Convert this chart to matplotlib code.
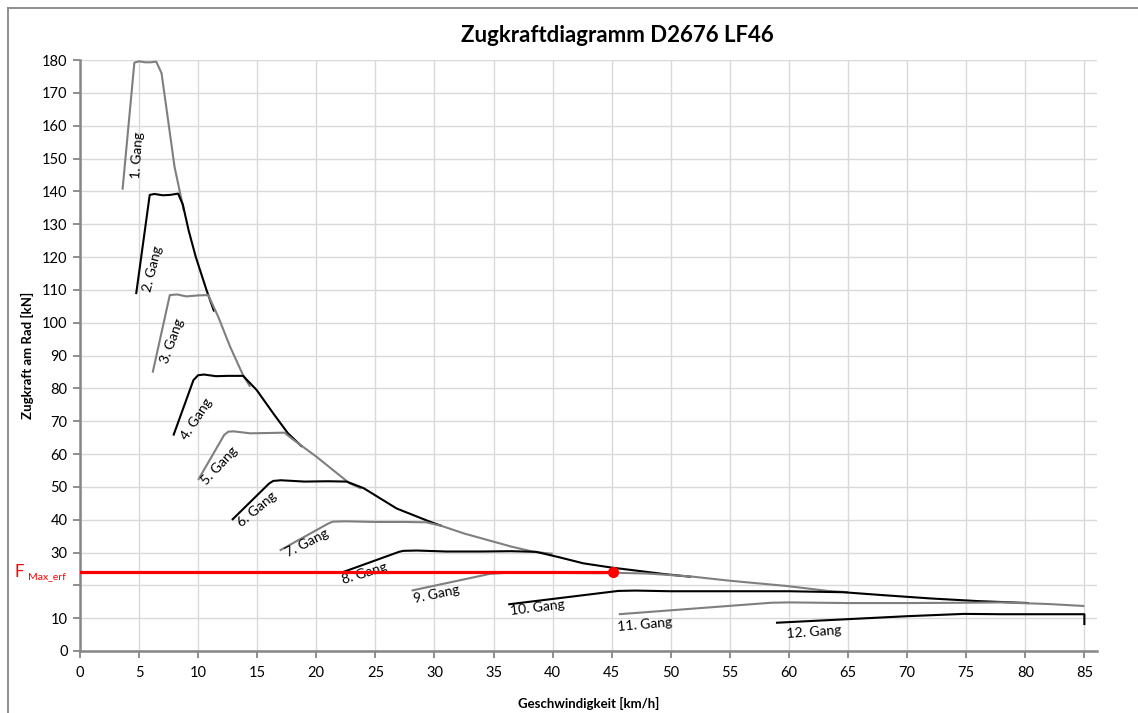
import matplotlib
matplotlib.use("Agg")
import matplotlib.pyplot as plt
from matplotlib.lines import Line2D
from matplotlib.transforms import blended_transform_factory

plt.rcParams['font.family'] = ['Lato', 'DejaVu Sans']

# --- data (speed km/h, tractive force kN) ---
g1_v = [3.6, 4.6, 5.0, 5.5, 6.0, 6.45, 6.9, 7.5, 8.0, 8.5, 8.8]
g1_f = [140.5, 179.2, 179.6, 179.3, 179.3, 179.5, 176.0, 160.5, 147.5, 139.0, 134.0]
g2_v = [4.75, 5.9, 6.3, 7.0, 7.6, 8.3, 8.7, 9.2, 9.8, 10.7, 11.35]
g2_f = [108.7, 138.9, 139.2, 138.8, 138.9, 139.3, 136.0, 128.0, 120.0, 110.0, 103.4]
g3_v = [6.15, 7.6, 8.2, 9.0, 10.0, 10.85, 11.7, 12.7, 13.8, 14.4]
g3_f = [84.8, 108.4, 108.6, 108.0, 108.3, 108.4, 101.8, 92.7, 84.0, 80.5]
g4_v = [7.9, 9.6, 10.0, 10.5, 11.5, 12.5, 13.8, 14.95, 16.35, 17.6, 18.8]
g4_f = [65.6, 82.5, 84.0, 84.2, 83.7, 83.8, 83.8, 79.5, 72.4, 66.3, 62.2]
g5_v = [10.0, 12.2, 12.55, 13.0, 14.4, 16.0, 17.3, 18.0, 20.0, 22.8, 23.8]
g5_f = [52.1, 65.8, 66.8, 66.9, 66.3, 66.4, 66.5, 64.5, 59.2, 51.1, 49.5]
g6_v = [12.86, 16.0, 16.35, 17.0, 19.0, 21.0, 22.56, 24.0, 26.8, 29.6, 30.6]
g6_f = [39.9, 51.0, 51.8, 52.0, 51.6, 51.7, 51.6, 49.6, 43.4, 39.4, 38.1]
g7_v = [16.9, 21.0, 21.4, 22.5, 25.0, 27.5, 29.3, 30.6, 32.5, 34.7, 36.5, 38.4, 40.0]
g7_f = [30.6, 38.8, 39.4, 39.5, 39.3, 39.3, 39.2, 38.1, 35.8, 33.6, 31.8, 30.2, 29.6]
g8_v = [22.0, 27.0, 27.35, 28.5, 31.0, 34.0, 36.5, 38.6, 40.5, 42.6, 45.0, 47.5, 49.5, 51.7]
g8_f = [23.7, 30.2, 30.5, 30.6, 30.3, 30.3, 30.4, 30.2, 28.6, 26.7, 25.4, 24.3, 23.4, 22.6]
g9_v = [28.06, 34.7, 36.0, 40.0, 44.0, 45.4, 48.0, 51.7, 55.0, 59.8, 63.3, 65.0]
g9_f = [18.4, 23.5, 23.8, 23.8, 23.7, 23.8, 23.6, 22.7, 21.4, 19.8, 18.3, 17.9]
g10_v = [36.24, 45.56, 47.0, 50.0, 55.0, 60.0, 64.6, 68.0, 72.0, 76.0, 80.3]
g10_f = [14.2, 18.3, 18.4, 18.2, 18.2, 18.2, 17.9, 17.0, 16.0, 15.2, 14.6]
g11_v = [45.6, 58.5, 60.0, 65.0, 70.0, 75.0, 78.0, 82.0, 85.0]
g11_f = [11.2, 14.7, 14.8, 14.6, 14.6, 14.7, 14.8, 14.3, 13.7]
g12_v = [58.9, 65.0, 70.0, 74.8, 78.0, 82.0, 85.0, 85.0]
g12_f = [8.6, 9.7, 10.6, 11.3, 11.2, 11.2, 11.2, 7.9]

gears_v = [g1_v, g2_v, g3_v, g4_v, g5_v, g6_v, g7_v, g8_v, g9_v, g10_v, g11_v, g12_v]
gears_f = [g1_f, g2_f, g3_f, g4_f, g5_f, g6_f, g7_f, g8_f, g9_f, g10_f, g11_f, g12_f]
gear_labels = ['1. Gang', '2. Gang', '3. Gang', '4. Gang', '5. Gang', '6. Gang',
               '7. Gang', '8. Gang', '9. Gang', '10. Gang', '11. Gang', '12. Gang']

f_max_erf = 24.0
v_max_erf = 45.1

y_ticks = [0, 10, 20, 30, 40, 50, 60, 70, 80, 90, 100, 110, 120, 130, 140, 150, 160, 170, 180]
y_tick_labels = ['0', '10', '', '30', '40', '50', '60', '70', '80', '90', '100',
                 '110', '120', '130', '140', '150', '160', '170', '180']
x_ticks = [0, 5, 10, 15, 20, 25, 30, 35, 40, 45, 50, 55, 60, 65, 70, 75, 80, 85]

# label placement (data coords) and rotation
label_pos = [(4.85, 151), (6.2, 116.5), (7.8, 94.5), (9.9, 70.5), (11.85, 56.3), (14.95, 43.0),
             (19.2, 33.0), (24.1, 23.5), (30.2, 17.4), (38.7, 13.3), (47.8, 7.9), (62.1, 5.9)]
label_rot = [86, 76, 70, 57, 47, 40, 27, 17, 12, 7, 5, 4]

fig = plt.figure(figsize=(11.38, 7.13), dpi=100)
ax = fig.add_axes([80 / 1138, 62 / 713, (1097 - 80) / 1138, (651 - 60) / 713])

for i, (v, f) in enumerate(zip(gears_v, gears_f)):
    col = '#7f7f7f' if i % 2 == 0 else 'black'
    ax.plot(v, f, color=col, lw=1.5, solid_capstyle='butt', zorder=3)
    ax.text(label_pos[i][0], label_pos[i][1], gear_labels[i], rotation=label_rot[i],
            rotation_mode='anchor', ha='center', va='center', fontsize=10, zorder=4)

# required max tractive force
ax.plot([0, v_max_erf], [f_max_erf, f_max_erf], color='#ff0000', lw=2.3, zorder=5)
ax.plot([v_max_erf], [f_max_erf], 'o', color='#ff0000', ms=7, zorder=6)

ax.set_xlim(0, 86.07)
ax.set_ylim(0, 180)
ax.set_xticks(x_ticks)
ax.set_yticks(y_ticks)
ax.set_yticklabels(y_tick_labels)
ax.tick_params(axis='both', labelsize=10.5, color='#868686', length=5, width=1.3)
ax.tick_params(axis='x', pad=6)
ax.tick_params(axis='y', pad=4)
ax.grid(True, color='#d9d9d9', lw=1)
ax.set_axisbelow(True)
for s in ['top', 'right']:
    ax.spines[s].set_visible(False)
for s in ['left', 'bottom']:
    ax.spines[s].set_color('#868686')
    ax.spines[s].set_linewidth(1.8)

ax.set_xlabel('Geschwindigkeit [km/h]', fontsize=9.5, fontweight='bold', labelpad=12)
ax.set_ylabel('Zugkraft am Rad [kN]', fontsize=9.5, fontweight='bold', labelpad=6)

# F_Max_erf label at the left of the axis
trans = blended_transform_factory(fig.transFigure, ax.transData)
ax.text(15 / 1138, f_max_erf, 'F', transform=trans, color='#ff0000', fontsize=12,
        ha='left', va='center')
ax.text(28 / 1138, f_max_erf - 1.3, 'Max_erf', transform=trans, color='#ff0000', fontsize=7.5,
        ha='left', va='center')

fig.text(617 / 1138, 1 - 36 / 713, 'Zugkraftdiagramm D2676 LF46', ha='center', va='center',
         fontsize=16, fontweight='bold')

# chart area border (top and left only visible)
fig.add_artist(Line2D([8 / 1138, 8 / 1138], [0, 1 - 8 / 713], transform=fig.transFigure,
                      color='#868686', lw=1.3))
fig.add_artist(Line2D([8 / 1138, 1], [1 - 8 / 713, 1 - 8 / 713], transform=fig.transFigure,
                      color='#868686', lw=1.3))

fig.savefig('out.png', dpi=100, facecolor='white')
